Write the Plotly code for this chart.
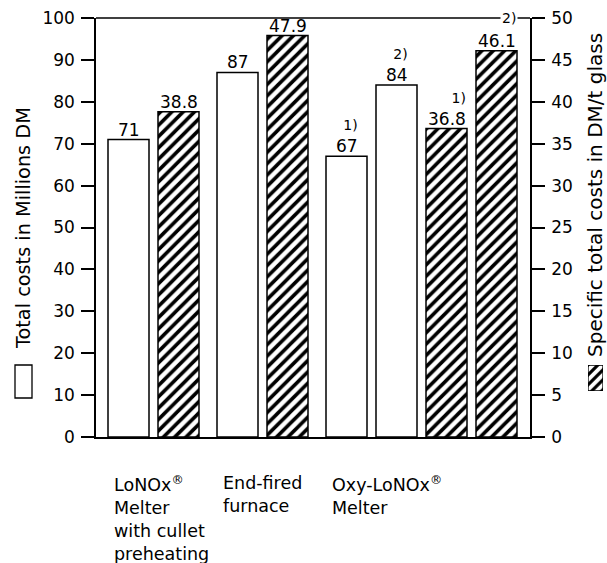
import plotly.graph_objects as go

# ---------------- data ----------------
categories = [
    "LoNOx<sup>®</sup><br>Melter<br>with cullet<br>preheating",
    "End-fired<br>furnace",
    "Oxy-LoNOx<sup>®</sup><br>Melter",
]
total_group = [0, 1, 2, 2]
total_costs = [71, 87, 67, 84]            # Millions DM (left axis)
total_notes = ["", "", "1)", "2)"]
specific_group = [0, 1, 2, 2]
specific_costs = [38.8, 47.9, 36.8, 46.1]  # DM / t glass (right axis)
specific_notes = ["", "", "1)", "2)"]
left_ticks = [0, 10, 20, 30, 40, 50, 60, 70, 80, 90, 100]
right_ticks = [0, 5, 10, 15, 20, 25, 30, 35, 40, 45, 50]
left_title = "Total costs in Millions DM"
right_title = "Specific total costs in DM/t glass"

# ---------------- layout helpers ----------------
W, H = 607, 563
PL, PR, PT, PB = 96, 530, 18, 437          # plot area in pixels
FONT = "DejaVu Sans"
BAR_W, PITCH, GAP, START = 41, 50, 9, 32.5


def fx(p):
    return p / W


def fy(p):
    return 1 - p / H


# slot order: in each group, total bars first then specific bars
tot_x, spec_x = [None] * len(total_costs), [None] * len(specific_costs)
slot = 0
group_first = {}
for g in range(len(categories)):
    for i, gg in enumerate(total_group):
        if gg == g:
            tot_x[i] = START + slot * PITCH + g * GAP
            group_first.setdefault(g, tot_x[i])
            slot += 1
    for i, gg in enumerate(specific_group):
        if gg == g:
            spec_x[i] = START + slot * PITCH + g * GAP
            group_first.setdefault(g, spec_x[i])
            slot += 1

line = dict(color="black", width=1.5)
hatch = dict(shape="/", size=8, solidity=0.45, fgcolor="#000000", fgopacity=1,
             bgcolor="#ffffff", fillmode="replace")
hatch_icon = dict(shape="/", size=7, solidity=0.45, fgcolor="#000000", fgopacity=1,
                  bgcolor="#ffffff", fillmode="replace")

fig = go.Figure()
fig.add_trace(go.Bar(x=tot_x, y=total_costs, width=BAR_W, yaxis="y",
                     marker=dict(color="white", line=line), showlegend=False))
fig.add_trace(go.Bar(x=spec_x, y=specific_costs, width=BAR_W, yaxis="y2",
                     marker=dict(color="white", line=line, pattern=hatch), showlegend=False))
# hatched legend icon (own little axes in the right margin)
fig.add_trace(go.Bar(x=[0.5], y=[1], width=1, xaxis="x3", yaxis="y3",
                     marker=dict(color="white", line=dict(color="black", width=1.3), pattern=hatch_icon),
                     showlegend=False))

ann = []
def value_label(x, v, note, yref, top):
    txt = f"{v:g}"
    if note and v / top < 0.88:
        txt = f"<span style='font-size:14px'>{note}</span><br>{txt}"
    ann.append(dict(x=x, y=v, xref="x", yref=yref, text=txt, showarrow=False,
                    xanchor="center", yanchor="bottom", align="right",
                    font=dict(family=FONT, size=17, color="black"), yshift=-2))
    if note and v / top >= 0.88:
        ann.append(dict(x=x + BAR_W / 2, y=fy(PT), xref="x", yref="paper", text=note,
                        showarrow=False, xanchor="right", yanchor="middle", bgcolor="white",
                        borderpad=1, xshift=1,
                        font=dict(family=FONT, size=14, color="black")))

for x, v, n in zip(tot_x, total_costs, total_notes):
    value_label(x, v, n, "y", left_ticks[-1])
for x, v, n in zip(spec_x, specific_costs, specific_notes):
    value_label(x, v, n, "y2", right_ticks[-1])

for g, c in enumerate(categories):
    ann.append(dict(x=group_first[g] - BAR_W / 2 + 4, y=fy(PB + 34), xref="x", yref="paper",
                    text=c, showarrow=False, xanchor="left", yanchor="top", align="left",
                    font=dict(family=FONT, size=17.5, color="black")))

ann.append(dict(x=fx(23), y=fy(228), xref="paper", yref="paper", text=left_title,
                textangle=-90, showarrow=False, xanchor="center", yanchor="middle",
                font=dict(family=FONT, size=19.3, color="black")))
ann.append(dict(x=fx(595), y=fy(195), xref="paper", yref="paper", text=right_title,
                textangle=-90, showarrow=False, xanchor="center", yanchor="middle",
                font=dict(family=FONT, size=20, color="black")))

shapes = [
    # top frame line
    dict(type="line", xref="paper", yref="paper", x0=fx(PL), x1=fx(PR), y0=fy(PT), y1=fy(PT),
         line=dict(color="black", width=1.5), layer="below"),
    # white legend box (left)
    dict(type="rect", xref="paper", yref="paper", x0=fx(15), x1=fx(32), y0=fy(398), y1=fy(365),
         line=dict(color="black", width=1.3), fillcolor="white"),
]

axis_common = dict(showgrid=False, zeroline=False, showline=True, linecolor="black", linewidth=1.5,
                   ticks="outside", ticklen=13, tickwidth=1.5, tickcolor="black",
                   tickfont=dict(family=FONT, size=17, color="black"))

fig.update_layout(
    width=W, height=H, margin=dict(l=0, r=0, t=0, b=0, autoexpand=False),
    paper_bgcolor="white", plot_bgcolor="white", barmode="overlay",
    xaxis=dict(domain=[fx(PL), fx(PR)], range=[0, PR - PL], showgrid=False, zeroline=False,
               showline=True, linecolor="black", linewidth=1.5, showticklabels=False, ticks=""),
    yaxis=dict(domain=[fy(PB), fy(PT)], range=[left_ticks[0], left_ticks[-1]], tickvals=left_ticks,
               side="left", ticklabelstandoff=3, **axis_common),
    yaxis2=dict(domain=[fy(PB), fy(PT)], range=[right_ticks[0], right_ticks[-1]], tickvals=right_ticks,
                overlaying="y", side="right", anchor="x", ticklabelstandoff=3, **axis_common),
    xaxis3=dict(domain=[fx(588), fx(603)], range=[0, 1], visible=False, anchor="y3"),
    yaxis3=dict(domain=[fy(391), fy(365)], range=[0, 1], visible=False, anchor="x3"),
    annotations=ann, shapes=shapes,
)

fig.write_html("out.html", config={"displayModeBar": False},
               post_script="document.body.style.margin='0';document.body.style.overflow='hidden';")
